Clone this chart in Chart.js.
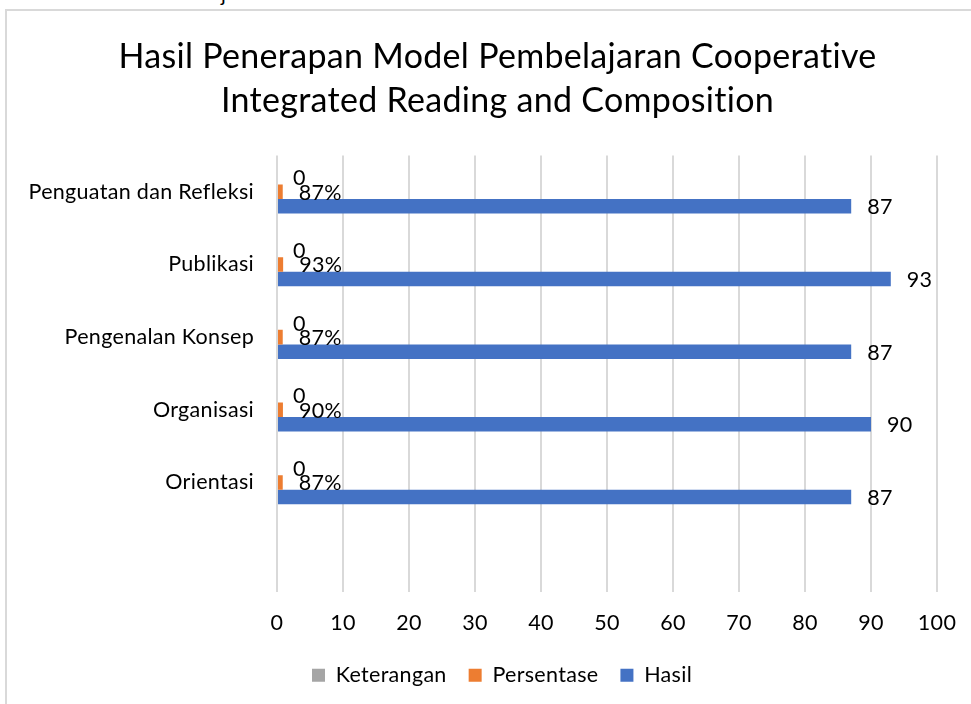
<!DOCTYPE html>
<html>
<head>
<meta charset="utf-8">
<script src="https://cdn.jsdelivr.net/npm/chart.js@4.4.1/dist/chart.umd.min.js"></script>
<style>
  html, body { margin: 0; padding: 0; background: #fff; overflow: hidden; }
  #frame { position: absolute; left: 5px; top: 9px; width: 1100px; height: 900px; border: 2px solid #d9d9d9; box-sizing: border-box; }
  #frag { position: absolute; left: 221px; top: -16px; font: 20px Lato, sans-serif; line-height: 20px; color: #000; }
  #c { position: absolute; left: 0; top: 0; }
</style>
</head>
<body>
<div id="frag">j</div>
<div id="frame"></div>
<canvas id="c" width="971" height="704"></canvas>
<script>
const categories = ['Penguatan dan Refleksi', 'Publikasi', 'Pengenalan Konsep', 'Organisasi', 'Orientasi', ''];
const keterangan = [0, 0, 0, 0, 0, null];
const persentase = [0.87, 0.93, 0.87, 0.90, 0.87, null];
const hasil = [87, 93, 87, 90, 87, null];
const xTicks = [0, 10, 20, 30, 40, 50, 60, 70, 80, 90, 100];
const titleLines = ['Hasil Penerapan Model Pembelajaran Cooperative', 'Integrated Reading and Composition'];

const FONT = 'Lato, "Open Sans", sans-serif';
const SPACING = '0.3px';

const noLigatures = {
  id: 'noLigatures',
  beforeUpdate(chart) { chart.ctx.letterSpacing = SPACING; },
  beforeLayout(chart) { chart.ctx.letterSpacing = SPACING; },
  beforeDraw(chart) { chart.ctx.letterSpacing = SPACING; },
  afterLayout(chart) {
    const t = chart.titleBlock;
    if (t) { t.left = 0; t.right = 995; t.width = 995; }
    const l = chart.legend;
    if (l) { l.left = 0; l.right = 1004; l.width = 1004; }
  }
};

const valueLabels = {
  id: 'valueLabels',
  afterDatasetsDraw(chart) {
    const ctx = chart.ctx;
    ctx.save();
    ctx.letterSpacing = SPACING;
    ctx.font = '21.5px ' + FONT;
    ctx.fillStyle = '#000';
    ctx.textAlign = 'left';
    ctx.textBaseline = 'middle';
    chart.data.datasets.forEach((ds, di) => {
      const meta = chart.getDatasetMeta(di);
      meta.data.forEach((bar, i) => {
        const v = ds.data[i];
        if (v === null || v === undefined) return;
        const txt = ds.fmt ? ds.fmt(v) : String(v);
        ctx.fillText(txt, bar.x + 16, bar.y + 1);
      });
    });
    ctx.restore();
  }
};

new Chart(document.getElementById('c'), {
  type: 'bar',
  data: {
    labels: categories,
    datasets: [
      { label: 'Keterangan', data: keterangan, backgroundColor: '#A5A5A5' },
      { label: 'Persentase', data: persentase, backgroundColor: '#ED7D31', fmt: v => Math.round(v * 100) + '%' },
      { label: 'Hasil', data: hasil, backgroundColor: '#4472C4' }
    ]
  },
  options: {
    indexAxis: 'y',
    responsive: false,
    animation: false,
    devicePixelRatio: 1,
    categoryPercentage: 0.6,
    barPercentage: 1,
    layout: { padding: { left: 0, right: 34, top: 0, bottom: 8 } },
    scales: {
      x: {
        min: 0, max: 100,
        afterBuildTicks: s => { s.ticks = xTicks.map(v => ({ value: v })); },
        grid: { color: '#d9d9d9', lineWidth: 2, drawTicks: false },
        border: { display: false },
        ticks: { color: '#000', font: { family: FONT, size: 21.5 }, padding: 19, minRotation: 0, maxRotation: 0 },
        afterFit: s => { s.height = 51; s.paddingLeft = 0; s.paddingRight = 0; }
      },
      y: {
        grid: { display: false, drawTicks: false },
        border: { display: false },
        ticks: { color: '#000', font: { family: FONT, size: 21.5 }, padding: 23 },
        afterFit: s => { s.width = 277; s.paddingTop = 0; s.paddingBottom = 0; }
      }
    },
    plugins: {
      title: {
        display: true,
        text: titleLines,
        color: '#000',
        font: { family: FONT, size: 34, weight: 'normal', lineHeight: 1.3 },
        padding: { top: 35, bottom: 32 }
      },
      legend: {
        position: 'bottom',
        labels: {
          color: '#000',
          font: { family: FONT, size: 21.5 },
          boxWidth: 13, boxHeight: 13,
          padding: 22
        }
      },
      tooltip: { enabled: false }
    }
  },
  plugins: [noLigatures, valueLabels]
});
</script>
</body>
</html>
